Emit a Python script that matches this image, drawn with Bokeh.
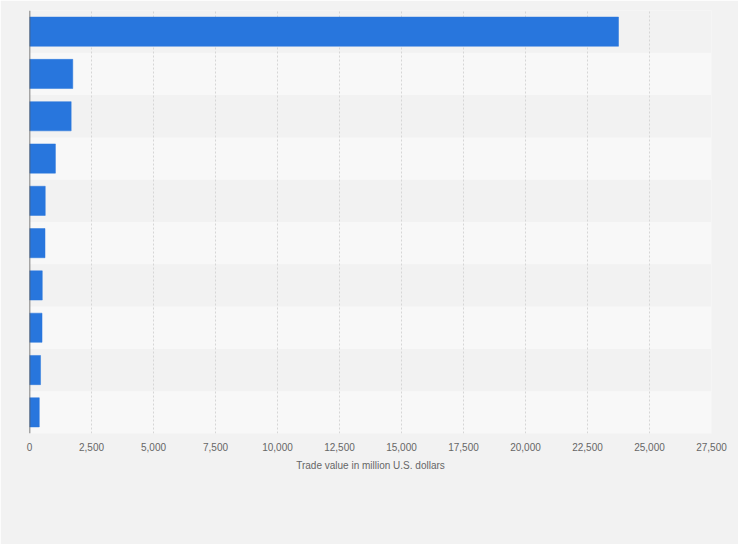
from bokeh.plotting import figure
from bokeh.models import ColumnDataSource, FactorRange, Range1d, FixedTicker, NumeralTickFormatter, Span
from bokeh.embed import file_html
from bokeh.resources import INLINE

# Data (the category names are not shown on the chart)
categories = ["1", "2", "3", "4", "5", "6", "7", "8", "9", "10"]
trade_values = [23750, 1745, 1680, 1045, 635, 625, 515, 505, 445, 395]
x_ticks = [0, 2500, 5000, 7500, 10000, 12500, 15000, 17500, 20000, 22500, 25000, 27500]
x_max = 27500

bar_blue = "#2876dd"
bg_dark = "#f2f2f2"
bg_light = "#f8f8f8"
text_grey = "#666666"
font = "Liberation Sans"

source = ColumnDataSource(data=dict(cat=categories, val=trade_values))
bands = ColumnDataSource(data=dict(cat=categories[1::2], right=[x_max] * len(categories[1::2])))

p = figure(
    width=738, height=544,
    y_range=FactorRange(factors=list(reversed(categories))),
    x_range=Range1d(0, x_max),
    output_backend="svg", toolbar_location=None,
    min_border_left=29, min_border_right=27, min_border_top=10, min_border_bottom=111,
)
p.background_fill_color = bg_dark
p.border_fill_color = bg_dark
p.outline_line_color = None

# alternating row bands (drawn under the grid)
band_r = p.hbar(y="cat", left=0, right="right", height=1.0, source=bands,
                fill_color=bg_light, line_color=None)
band_r.level = "image"

# bars
p.hbar(y="cat", left=0, right="val", height=0.69, source=source,
       fill_color=bar_blue, line_color=bar_blue, line_width=0.5)

# grid
p.ygrid.grid_line_color = None
p.xgrid.ticker = FixedTicker(ticks=x_ticks)
p.xgrid.grid_line_color = "#d6d6d6"
p.xgrid.grid_line_dash = "2 2"
p.xgrid.grid_line_width = 1

# x axis
p.xaxis.ticker = FixedTicker(ticks=x_ticks)
p.xaxis.formatter = NumeralTickFormatter(format="0,0")
p.xaxis.axis_line_color = None
p.xaxis.major_tick_line_color = None
p.xaxis.minor_tick_line_color = None
p.xaxis.major_tick_out = 0
p.xaxis.minor_tick_out = 0
p.xaxis.major_label_standoff = 9
p.xaxis.major_label_text_font = font
p.xaxis.major_label_text_font_size = "10px"
p.xaxis.major_label_text_color = text_grey
p.xaxis.axis_label = "Trade value in million U.S. dollars"
p.xaxis.axis_label_text_font = font
p.xaxis.axis_label_text_font_size = "10px"
p.xaxis.axis_label_text_font_style = "normal"
p.xaxis.axis_label_text_color = text_grey
p.xaxis.axis_label_standoff = 6

# y axis: only its line is shown
p.yaxis.visible = False
p.add_layout(Span(location=0, dimension="height", line_color="#555555", line_width=1.5))

open("out.html", "w").write(file_html(p, INLINE))
